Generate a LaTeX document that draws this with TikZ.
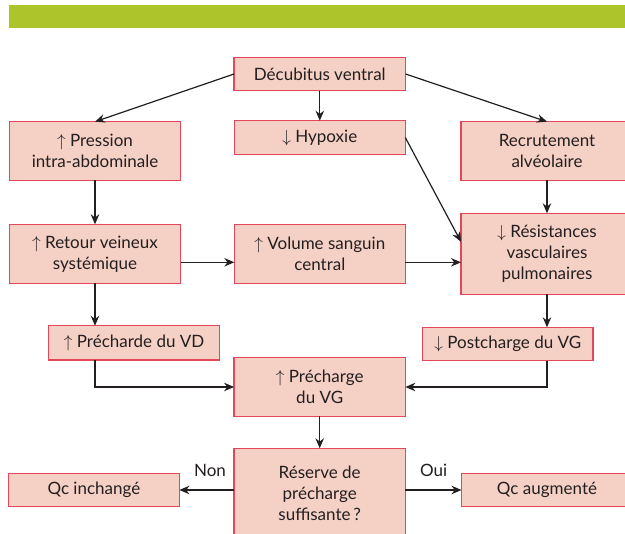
\documentclass[tikz,border=0pt]{standalone}
\usepackage{fontspec}
\setmainfont{Lato}
\usetikzlibrary{arrows.meta,calc}
\definecolor{boxfill}{HTML}{F5D0C5}
\definecolor{boxline}{HTML}{E2475A}
\definecolor{topbar}{HTML}{ADC42B}
\definecolor{ink}{HTML}{231F20}
\tikzset{
  box/.style={draw=boxline, fill=boxfill, line width=1.4pt, inner sep=0pt, outer sep=0pt,
    align=center, text=ink, font=\fontsize{17}{21}\selectfont},
  arr/.style={draw=ink, line width=1.2pt, -{Stealth[length=10pt,width=8.5pt]}},
  lbl/.style={text=ink, font=\fontsize{17}{21}\selectfont, inner sep=0pt}
}
\begin{document}
\begin{tikzpicture}[x=1pt,y=-1pt]
\path[use as bounding box] (0,0) rectangle (625,534);
\clip (0,0) rectangle (625,534);
\fill[white] (0,0) rectangle (625,534);
\fill[topbar] (9,5) rectangle (626,27.7);

\node[box, minimum width=171.5pt, minimum height=33.4pt] (dv) at (319.8,74) {Décubitus ventral};
\node[box, minimum width=171.4pt, minimum height=58.6pt] (pia) at (95,151) {$\uparrow$ Pression\\intra-abdominale};
\node[box, minimum width=171pt, minimum height=33.6pt] (hyp) at (319.8,137.5) {$\downarrow$ Hypoxie};
\node[box, minimum width=172pt, minimum height=58.6pt] (rec) at (547,151) {Recrutement\\alvéolaire};
\node[box, minimum width=172pt, minimum height=81pt] (res) at (547,253.8) {$\downarrow$ Résistances\\vasculaires\\pulmonaires};
\node[box, minimum width=171.4pt, minimum height=59pt] (rv) at (95,253.8) {$\uparrow$ Retour veineux\\systémique};
\node[box, minimum width=171pt, minimum height=59pt] (vsc) at (319.8,253.8) {$\uparrow$ Volume sanguin\\central};
\node[box, minimum width=171pt, minimum height=34.3pt] (pvd) at (134.1,342.9) {$\uparrow$ Précharde du VD};
\node[box, minimum width=170.5pt, minimum height=33.4pt] (post) at (507.8,344) {$\downarrow$ Postcharge du VG};
\node[box, minimum width=171.3pt, minimum height=58.6pt] (pvg) at (319.7,387) {$\uparrow$ Précharge\\du VG};
\node[box, minimum width=171.3pt, minimum height=89.4pt] (rsv) at (319.7,493) {Réserve de\\précharge\\suffisante\,?};
\node[box, minimum width=171pt, minimum height=33.4pt] (qci) at (93.9,490) {Qc inchangé};
\node[box, minimum width=171pt, minimum height=33.4pt] (qca) at (547,490) {Qc augmenté};

\draw[arr] (dv.west) -- (pia.north);
\draw[arr] (dv.south) -- (hyp.north);
\draw[arr] (dv.east) -- (rec.north);
\draw[arr] (pia.south) -- (rv.north);
\draw[arr] ([yshift=-8.5pt]rv.east) -- ([yshift=-8.5pt]rv.east -| vsc.west);
\draw[arr] (hyp.east) -- ([yshift=12pt]res.west);
\draw[arr] ([yshift=-8.5pt]vsc.east) -- ([yshift=-8.5pt]vsc.east -| res.west);
\draw[arr] (rec.south) -- (res.north);
\draw[arr] (pia.south |- rv.south) -- (pia.south |- pvd.north);
\draw[arr] (res.south) -- (res.south |- post.north);
\draw[arr] (pia.south |- pvd.south) |- (pvg.west);
\draw[arr] (res.south |- post.south) |- (pvg.east);
\draw[arr] (pvg.south) -- (rsv.north);
\draw[arr] (rsv.west |- qci.east) -- (qci.east);
\draw[arr] (rsv.east |- qca.west) -- (qca.west);

\node[lbl] (non) at (210,470.7) {Non};
\node[lbl] (oui) at (433.6,470.7) {Oui};
\end{tikzpicture}
\end{document}
